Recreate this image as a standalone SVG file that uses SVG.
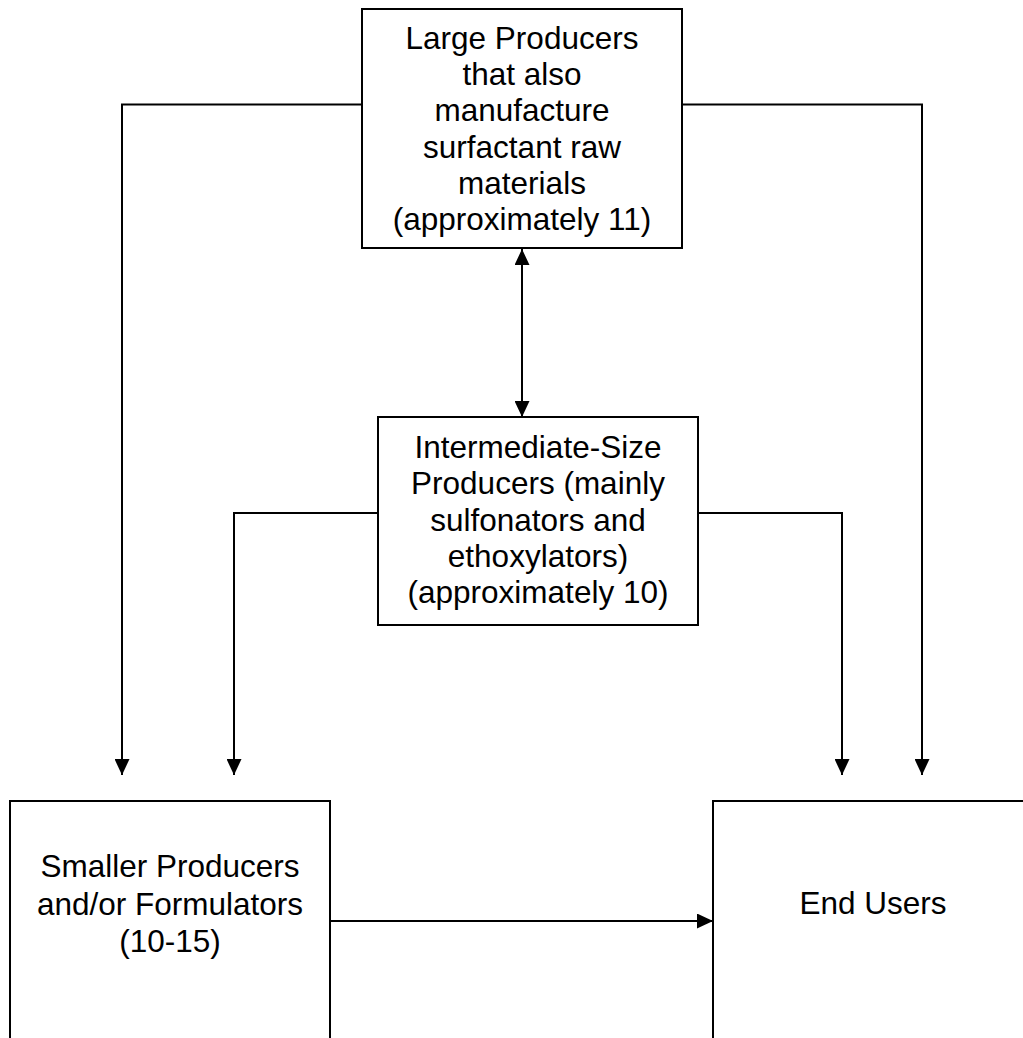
<svg xmlns="http://www.w3.org/2000/svg" width="1023" height="1038" viewBox="0 0 1023 1038">
<style>
.box{fill:#fff;stroke:#000;stroke-width:2}
.c{fill:none;stroke:#000;stroke-width:2}
text{font-family:"Liberation Sans",Arial,sans-serif;font-size:31.5px;fill:#000;text-anchor:middle}
</style>
<defs>
<marker id="ah" markerUnits="userSpaceOnUse" markerWidth="16" markerHeight="15" refX="16" refY="7.5" orient="auto-start-reverse">
<path d="M0,0 L16,7.5 L0,15 z" fill="#000"/>
</marker>
</defs>
<rect width="1023" height="1038" fill="#fff"/>
<g id="connectors">
<path class="c" d="M362,104.5 H122 V775" marker-end="url(#ah)"/>
<path class="c" d="M682,104.5 H922 V775" marker-end="url(#ah)"/>
<path class="c" d="M378,513 H234 V775" marker-end="url(#ah)"/>
<path class="c" d="M698,513 H842 V775" marker-end="url(#ah)"/>
<path class="c" d="M522,249 V417" marker-start="url(#ah)" marker-end="url(#ah)"/>
<path class="c" d="M330,921 H713" marker-end="url(#ah)"/>
</g>
<g id="large">
<rect class="box" x="362" y="9" width="320" height="239"/>
<text x="522" y="49">Large Producers</text>
<text x="522" y="85.2">that also</text>
<text x="522" y="121.4">manufacture</text>
<text x="522" y="157.6">surfactant raw</text>
<text x="522" y="193.8">materials</text>
<text x="522" y="230">(approximately 11)</text>
</g>
<g id="intermediate">
<rect class="box" x="378" y="417" width="320" height="208"/>
<text x="538" y="458">Intermediate-Size</text>
<text x="538" y="494.3">Producers (mainly</text>
<text x="538" y="530.6">sulfonators and</text>
<text x="538" y="566.9">ethoxylators)</text>
<text x="538" y="603.2">(approximately 10)</text>
</g>
<g id="smaller">
<rect class="box" x="10" y="801" width="320" height="260"/>
<text x="170" y="877">Smaller Producers</text>
<text x="170" y="914.5">and/or Formulators</text>
<text x="170" y="952">(10-15)</text>
</g>
<g id="endusers">
<rect class="box" x="713" y="801" width="320" height="260"/>
<text x="873" y="914">End Users</text>
</g>
</svg>
